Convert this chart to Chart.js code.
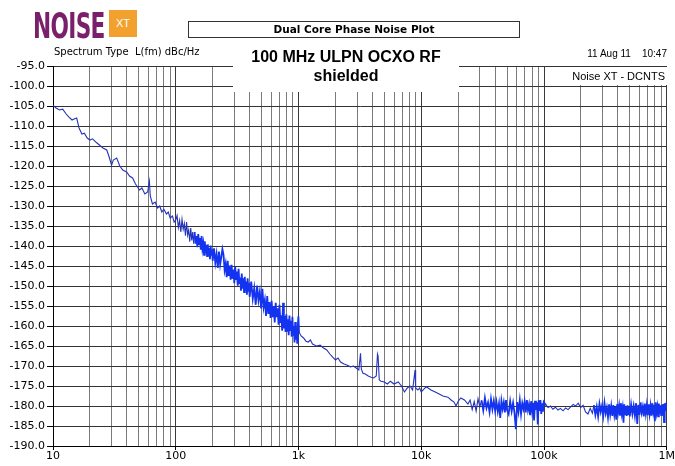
<!DOCTYPE html>
<html lang="en">
<head>
    <meta charset="UTF-8">
    <title>Dual Core Phase Noise Plot</title>
    <style>
        body {
            margin: 0;
            background: #ffffff;
            font-family: "DejaVu Sans", Arial, sans-serif;
            overflow: hidden;
        }

        .page {
            position: relative;
            width: 675px;
            height: 466px;
        }

        #noiseChart {
            position: absolute;
            left: 0;
            top: 0;
        }

        .logo {
            position: absolute;
            left: 33px;
            top: 9px;
            height: 28px;
        }

        .logo .word {
            position: absolute;
            left: 0;
            top: -4px;
            font-family: "DejaVu Sans Condensed", "DejaVu Sans", sans-serif;
            font-weight: bold;
            font-size: 36px;
            color: #7a1f6a;
            transform: scaleX(0.67);
            transform-origin: left top;
            letter-spacing: -1px;
        }

        .logo .xt {
            position: absolute;
            left: 76px;
            top: 1px;
            width: 28px;
            height: 27px;
            background: #f2a02e;
            color: #ffffff;
            font-family: Arial, sans-serif;
            font-size: 11px;
            line-height: 27px;
            text-align: center;
        }

        .title-box {
            position: absolute;
            left: 188px;
            top: 21px;
            width: 330px;
            height: 15px;
            border: 1px solid #333;
            font-weight: bold;
            font-size: 10.5px;
            line-height: 15px;
            text-align: center;
            color: #000;
        }

        .spectrum {
            position: absolute;
            left: 54px;
            top: 46px;
            font-size: 10px;
            color: #000;
        }

        .note {
            position: absolute;
            left: 233px;
            top: 42px;
            width: 226px;
            height: 50px;
            background: #ffffff;
            font-family: "Liberation Sans", Arial, sans-serif;
            font-weight: bold;
            font-size: 16px;
            line-height: 19px;
            text-align: center;
            color: #000;
            padding-top: 5px;
            box-sizing: border-box;
        }

        .stamp {
            position: absolute;
            right: 8px;
            top: 48px;
            font-family: "Liberation Sans", Arial, sans-serif;
            font-size: 10px;
            color: #000;
            white-space: pre;
        }

        .source {
            position: absolute;
            left: 552px;
            top: 67px;
            width: 116px;
            height: 18px;
            background: #ffffff;
            font-family: "Liberation Sans", Arial, sans-serif;
            font-size: 11px;
            line-height: 18px;
            text-align: right;
            padding-right: 3px;
            box-sizing: border-box;
            color: #000;
        }
    </style>
</head>
<body>

<div class="page">
    <canvas id="noiseChart" width="675" height="466"></canvas>

    <div class="logo"><span class="word">NOISE</span><span class="xt">XT</span></div>
    <div class="title-box">Dual Core Phase Noise Plot</div>
    <div class="spectrum">Spectrum Type&nbsp;&nbsp;L(fm) dBc/Hz</div>
    <div class="note">100 MHz ULPN OCXO RF<br>shielded</div>
    <div class="stamp">11 Aug 11    10:47</div>
    <div class="source">Noise XT - DCNTS</div>
</div>

<script src="https://cdn.jsdelivr.net/npm/chart.js"></script>
<script>
    // Offset frequency (Hz)
    const offsetHz = [
        // 10 Hz .. 100 Hz
        10, 10.6, 11.3, 12, 12.8, 13.5, 14.3, 15, 15.6, 16.3, 17.2, 18, 19, 20, 21, 22.7, 24, 25.5, 27.4, 28.5,
        30, 31, 33, 35, 37, 39.8, 42, 44.5, 47, 50.7, 53, 56, 59, 61, 62, 64.6, 68, 71, 74, 77,
        80, 84, 87, 90, 94, 97, 100,
        // 100 Hz .. 1 kHz (dense band)
        102.5, 105, 107.5, 110, 112.5, 115, 117.5, 120, 122.5, 125, 127.5, 130, 132.5, 135, 137.5, 140, 142.5, 145, 147.5, 150,
        152.5, 155, 157.5, 160, 162.5, 165, 167.5, 170, 172.5, 175, 177.5, 180, 182.5, 185, 187.5, 190, 192.5, 195, 197.5, 200,
        205, 210, 215, 220, 225, 230, 235, 240, 245, 250, 255, 260, 265, 270, 275, 280, 285, 290, 295, 300,
        305, 310, 315, 320, 325, 330, 335, 340, 345, 350, 355, 360, 365, 370, 375, 380, 385, 390, 395, 400,
        412, 424, 436, 448, 460, 472, 484, 496, 508, 520, 532, 544, 556, 568, 580, 592, 604, 616, 628, 640,
        652, 664, 676, 688, 700, 712, 724, 736, 748, 760, 772, 784, 796, 808, 820, 832, 844, 856, 868, 880,
        892, 904, 916, 928, 940, 952, 964, 976, 988, 998,
        // 1 kHz .. 24 kHz
        1010, 1050, 1100, 1150, 1200, 1250, 1300, 1400, 1500, 1600, 1700, 1800, 1900, 2000, 2100, 2200, 2350,
        2500, 2650, 2800, 2950, 3100, 3200, 3250, 3350, 3500, 3700, 3900, 4100, 4300, 4400, 4450, 4550, 4700,
        5000, 5300, 5600, 6000, 6500, 6900, 7300, 7700, 8100, 8500, 8900, 9000, 9400, 9700, 10000, 10500,
        11000, 12000, 13000, 14000, 15000, 16500, 17500, 18500, 19200, 20000, 21000, 22500, 24000,
        // 25 kHz .. 100 kHz
        25000, 26000, 27000, 28000, 29000, 30000, 31000, 32000, 33000, 34000, 35000, 36000, 37000,
        38000, 39000, 40000, 41000, 42000, 43000, 44000, 45000, 46000, 47000, 48000, 49000, 50000,
        51500, 53000, 54500, 56000, 57500, 59000, 60500, 62000, 63500, 65000, 66500, 68000, 69500, 71000,
        72500, 74000, 75500, 77000, 78500, 80000, 81500, 83000, 84500, 86000, 87500, 89000, 90500, 92000,
        93500, 95000, 96500, 98000, 99500,
        // 100 kHz .. 250 kHz
        104000, 108000, 113000, 118000, 124000, 130000, 136000, 143000, 150000, 157000,
        165000, 173000, 181000, 190000, 199000, 208000, 218000, 228000, 238000, 248000,
        // 250 kHz .. 1 MHz
        255000, 262000, 269000, 276000, 283000, 290000, 297000, 304000, 311000, 318000, 325000, 332000,
        339000, 346000, 353000, 360000, 367000, 374000, 381000, 388000, 395000, 402000, 409000, 416000,
        423000, 430000, 437000, 444000, 451000, 458000, 465000, 472000, 479000, 486000, 493000, 500000,
        512500, 525000, 537500, 550000, 562500, 575000, 587500, 600000, 612500, 625000,
        637500, 650000, 662500, 675000, 687500, 700000, 712500, 725000, 737500, 750000,
        762500, 775000, 787500, 800000, 812500, 825000, 837500, 850000, 862500, 875000,
        887500, 900000, 912500, 925000, 937500, 950000, 962500, 975000, 987500, 1000000
    ];

    // L(fm) in dBc/Hz, one per offset
    const noiseDbc = [
        // 10 Hz .. 100 Hz
        -104.8, -105.5, -106.0, -105.8, -107.0, -107.8, -108.5, -108.2, -108.0, -110.5, -112.0, -111.8, -113.0, -113.5, -113.2, -114.2, -114.8, -115.5, -116.0, -117.5,
        -119.8, -118.5, -118.0, -120.0, -121.0, -121.5, -122.5, -123.0, -124.5, -126.0, -125.5, -127.0, -126.5, -123.8, -127.5, -129.5, -129.0, -130.5, -130.0, -131.5,
        -130.8, -132.0, -131.5, -133.0, -132.5, -134.0, -133.5,
        // 100 Hz .. 1 kHz
        -132.4, -135.4, -133.6, -136.5, -133.3, -135.8, -134.4, -137.4, -134.0, -137.3, -136.0, -138.9, -135.5, -138.6, -136.5, -139.4, -136.5, -139.4, -137.5, -140.3,
        -137.0, -139.5, -138.0, -140.9, -137.5, -140.7, -139.4, -142.2, -138.8, -141.8, -139.7, -142.5, -139.6, -142.4, -140.5, -143.3, -139.9, -142.4, -140.8, -143.7,
        -140.6, -144.2, -142.0, -145.5, -141.4, -144.6, -142.8, -140.8, -142.2, -146.0, -144.5, -147.8, -143.7, -147.5, -144.9, -148.4, -144.7, -148.2, -145.9, -149.3,
        -145.2, -148.3, -146.4, -149.9, -145.7, -149.5, -147.9, -151.2, -146.9, -150.7, -148.1, -151.5, -147.7, -151.2, -148.9, -152.2, -148.1, -151.2, -149.2, -152.7,
        -148.9, -153.2, -150.5, -154.7, -149.9, -153.6, -151.4, -155.6, -150.7, -155.3, -153.5, -157.5, -152.5, -157.0, -154.0, -158.0, -153.7, -157.8, -155.0, -159.1,
        -154.2, -157.8, -155.6, -159.7, -154.7, -159.2, -157.3, -161.2, -154.2, -160.6, -157.5, -161.5, -157.1, -161.2, -158.3, -162.3, -157.4, -161.0, -158.7, -162.7,
        -157.7, -162.2, -160.2, -164.1, -159.0, -163.4, -160.3, -164.2, -159.8, -157.6,
        // 1 kHz .. 24 kHz
        -161.5, -162.5, -163.0, -163.8, -164.0, -163.5, -164.5, -165.0, -164.8, -165.5, -166.0, -167.0, -167.8, -168.5, -168.0, -169.0, -169.5,
        -169.8, -170.2, -170.0, -170.5, -171.0, -166.8, -170.8, -171.8, -172.0, -172.5, -172.8, -173.0, -172.5, -167.0, -167.5, -173.5, -173.8,
        -174.0, -174.5, -173.8, -174.5, -174.0, -175.0, -176.5, -175.5, -175.0, -176.0, -171.0, -175.5, -176.0, -175.5, -176.5, -175.8,
        -175.2, -176.0, -176.5, -177.0, -177.5, -177.8, -178.5, -179.0, -180.0, -178.8, -178.0, -178.5, -179.5,
        // 25 kHz .. 100 kHz
        -178.5, -180.9, -178.9, -181.3, -178.2, -180.2, -178.6, -181.1, -178.0, -180.5, -179.1, -181.5, -178.3,
        -180.8, -178.7, -181.2, -179.0, -181.4, -179.4, -183.0, -178.7, -180.7, -179.1, -181.6, -178.5, -181.0,
        -182.0, -178.8, -181.3, -179.2, -181.7, -185.8, -179.0, -181.4, -178.6, -182.0, -179.3, -180.7, -178.9, -181.6,
        -178.5, -181.0, -179.6, -182.3, -178.8, -181.3, -179.2, -183.6, -178.7, -181.0, -179.1, -184.6, -178.6, -181.2,
        -178.5, -182.0, -179.3, -181.4, -179.0,
        // 100 kHz .. 250 kHz
        -179.8, -180.4, -180.0, -180.8, -180.3, -181.0, -180.6, -181.2, -180.5, -180.9,
        -180.2, -179.6, -180.0, -179.3, -180.4, -179.8, -181.5, -182.0, -180.6, -181.8,
        // 250 kHz .. 1 MHz
        -179.8, -182.2, -180.2, -182.6, -179.5, -181.5, -179.9, -182.4, -179.3, -181.8, -180.4, -182.8,
        -179.6, -182.1, -180.0, -182.5, -179.8, -182.2, -180.2, -183.4, -179.5, -181.5, -179.9, -182.4,
        -179.3, -181.8, -180.4, -184.2, -179.6, -182.1, -180.0, -182.5, -179.8, -182.2, -180.2, -182.6,
        -179.6, -182.0, -180.0, -182.4, -179.3, -184.5, -179.7, -182.2, -179.1, -181.6,
        -180.2, -182.6, -179.4, -181.9, -179.8, -182.3, -179.6, -182.0, -180.0, -182.4,
        -179.3, -181.3, -179.7, -183.8, -179.1, -181.6, -180.2, -182.6, -179.4, -181.9,
        -179.8, -182.3, -179.6, -182.0, -179.5, -184.0, -179.3, -181.3, -179.2, -180.6
    ];

    // labels shown under the decade lines
    const xTickLabels = { 10: '10', 100: '100', 1000: '1k', 10000: '10k', 100000: '100k', 1000000: '1M' };
    const yMin = -190;
    const yMax = -95;
    const yStep = 5;

    const isDecade = v => Math.abs(Math.log10(v) - Math.round(Math.log10(v))) < 1e-9;

    // stretches where the trace is a thick noisy band
    const denseBand = f => (f > 140 && f < 1000) || (f > 30000 && f < 100000) || (f > 250000);

    const ctx = document.getElementById('noiseChart').getContext('2d');

    const myChart = new Chart(ctx, {
        type: 'line',
        data: {
            datasets: [{
                data: offsetHz.map((f, i) => ({ x: f, y: noiseDbc[i] })),
                borderColor: '#1b33dd',
                borderWidth: 1.1,
                pointRadius: 0,
                tension: 0,
                fill: false,
                segment: {
                    borderWidth: c => denseBand(c.p0.parsed.x) ? 1.8 : 1.1,
                    borderColor: c => denseBand(c.p0.parsed.x) ? '#1433f0' : '#2533b8'
                }
            }]
        },
        options: {
            responsive: false,
            animation: false,
            events: [],
            layout: {
                padding: { left: 0, top: 66, right: 6, bottom: 0 }
            },
            plugins: {
                legend: { display: false },
                tooltip: { enabled: false }
            },
            scales: {
                x: {
                    type: 'logarithmic',
                    min: 10,
                    max: 1000000,
                    border: { color: '#000', width: 1 },
                    afterBuildTicks: scale => {
                        // grid lines at 1..9 of every decade
                        const ticks = [];
                        for (let d = 10; d < 1000000; d *= 10) {
                            for (let m = 1; m <= 9; m++) ticks.push({ value: m * d });
                        }
                        ticks.push({ value: 1000000 });
                        scale.ticks = ticks;
                    },
                    afterFit: scale => { scale.height = 20; },
                    grid: {
                        color: c => (c.tick && isDecade(c.tick.value)) ? '#3a3a3a' : '#7a7a7a',
                        tickColor: c => (c.tick && isDecade(c.tick.value)) ? '#000' : 'rgba(0,0,0,0)',
                        tickLength: 4,
                        lineWidth: 1
                    },
                    ticks: {
                        autoSkip: false,
                        maxRotation: 0,
                        padding: 0,
                        color: '#000',
                        font: { family: 'DejaVu Sans', size: 11 },
                        callback: v => xTickLabels[v] || ''
                    }
                },
                y: {
                    type: 'linear',
                    min: yMin,
                    max: yMax,
                    border: { color: '#000', width: 1 },
                    afterFit: scale => { scale.width = 53; },
                    grid: {
                        color: '#333',
                        tickColor: '#000',
                        tickLength: 6,
                        lineWidth: 1
                    },
                    ticks: {
                        stepSize: yStep,
                        padding: 2,
                        color: '#000',
                        font: { family: 'DejaVu Sans', size: 11 },
                        callback: v => v.toFixed(1)
                    }
                }
            }
        }
    });
</script>

</body>
</html>
